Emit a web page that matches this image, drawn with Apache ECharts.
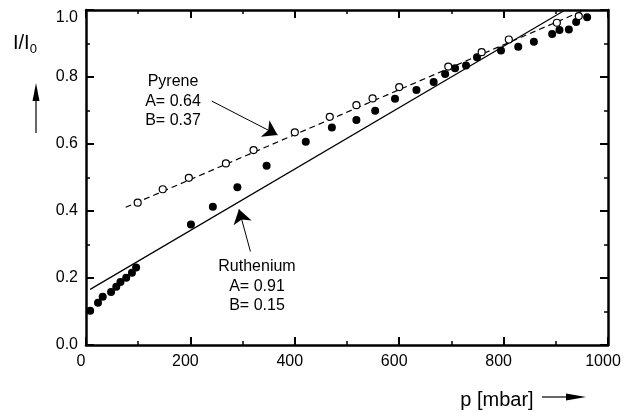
<!DOCTYPE html>
<html>
<head>
<meta charset="utf-8">
<script src="https://cdn.jsdelivr.net/npm/echarts@6/dist/echarts.min.js"></script>
<style>html,body{margin:0;padding:0;background:#fff}#c{width:633px;height:412px}</style>
</head>
<body>
<div id="c"></div>
<script>
// Ruthenium (filled circles)
const ruPressure = [8, 23, 32, 48, 58, 66, 77, 88, 96, 201, 243, 290, 346, 421, 471, 518, 554, 592, 633, 666, 688, 707, 728, 749, 795, 828, 858, 893, 907, 925, 939, 960];
const ruValue    = [0.102, 0.126, 0.144, 0.158, 0.174, 0.188, 0.201, 0.216, 0.231, 0.360, 0.413, 0.471, 0.535, 0.607, 0.649, 0.672, 0.699, 0.735, 0.761, 0.785, 0.809, 0.826, 0.834, 0.859, 0.879, 0.890, 0.905, 0.928, 0.940, 0.942, 0.964, 0.978];
// Pyrene (open circles)
const pyPressure = [99, 147, 197, 268, 321, 400, 467, 518, 549, 600, 694, 758, 810, 902, 944];
const pyValue    = [0.425, 0.465, 0.499, 0.542, 0.582, 0.635, 0.681, 0.716, 0.736, 0.770, 0.831, 0.874, 0.912, 0.962, 0.982];
// Fit lines (end points)
const ruFitP = [8, 918];
const ruFitV = [0.166, 1.0];
const pyFitP = [76, 955];
const pyFitV = [0.411, 1.0];
// Annotation arrows [from, to] in data coordinates
const pyArrow = [[241, 0.728], [367, 0.627]];
const ruArrow = [[315, 0.279], [293, 0.405]];
const xTicks = {min: 0, max: 1000, interval: 200};
const yTicks = {min: 0, max: 1.0, interval: 0.2};

const FONT = 'Liberation Sans, Arial, Helvetica, sans-serif';
const zip = (a, b) => a.map((v, i) => [v, b[i]]);

function axisCommon() {
  return {
    type: 'value',
    axisLine: {show: true, onZero: false, lineStyle: {color: '#000', width: 2.5}},
    axisTick: {show: true, inside: true, length: 8, lineStyle: {color: '#000', width: 2}},
    minorTick: {show: true, splitNumber: 2, length: 4, lineStyle: {color: '#000', width: 1.5}},
    splitLine: {show: false},
    minorSplitLine: {show: false}
  };
}

const chart = echarts.init(document.getElementById('c'), null, {renderer: 'canvas'});
const arrowLine = (pts) => ({
  silent: true,
  symbol: ['none', 'arrow'],
  symbolSize: 14,
  lineStyle: {color: '#000', width: 1, type: 'solid', opacity: 1},
  itemStyle: {color: '#000'},
  label: {show: false},
  emphasis: {disabled: true},
  data: [[{coord: pts[0]}, {coord: pts[1]}]],
  animation: false
});

chart.setOption({
  animation: false,
  backgroundColor: '#fff',
  grid: {left: 86, right: 25, top: 10, bottom: 67, containLabel: false},
  xAxis: [
    Object.assign(axisCommon(), xTicks, {
      position: 'bottom',
      axisLabel: {show: true, color: '#000', fontSize: 16, fontFamily: FONT, margin: 9, padding: [0, 10, 0, 0],
        formatter: v => String(v)}
    }),
    Object.assign(axisCommon(), xTicks, {position: 'top', axisLabel: {show: false}})
  ],
  yAxis: [
    Object.assign(axisCommon(), yTicks, {
      position: 'left',
      axisLabel: {show: true, color: '#000', fontSize: 16, fontFamily: FONT, margin: 8,
        verticalAlignMaxLabel: 'top',
        formatter: v => v.toFixed(1)}
    }),
    Object.assign(axisCommon(), yTicks, {position: 'right', axisLabel: {show: false}})
  ],
  series: [
    {
      type: 'line', name: 'Ruthenium fit', data: zip(ruFitP, ruFitV),
      showSymbol: false, symbol: 'none', lineStyle: {color: '#000', width: 1.2}, z: 2,
      markLine: arrowLine(ruArrow)
    },
    {
      type: 'line', name: 'Pyrene fit', data: zip(pyFitP, pyFitV),
      showSymbol: false, symbol: 'none', lineStyle: {color: '#000', width: 1.2, type: [6, 4]}, z: 2,
      markLine: arrowLine(pyArrow)
    },
    {
      type: 'scatter', name: 'Ruthenium', data: zip(ruPressure, ruValue),
      symbol: 'circle', symbolSize: 8, itemStyle: {color: '#000', opacity: 1}, z: 3
    },
    {
      type: 'scatter', name: 'Pyrene', data: zip(pyPressure, pyValue),
      symbol: 'circle', symbolSize: 7, itemStyle: {color: '#fff', borderColor: '#000', borderWidth: 1.2, opacity: 1}, z: 4
    }
  ],
  graphic: [
    {type: 'text', x: 173, y: 72, style: {text: 'Pyrene\nA= 0.64\nB= 0.37', fill: '#000', font: '16px ' + FONT, align: 'center', lineHeight: 19.5}},
    {type: 'text', x: 257, y: 257, style: {text: 'Ruthenium\nA= 0.91\nB= 0.15', fill: '#000', font: '16px ' + FONT, align: 'center', lineHeight: 19.5}},
    {type: 'text', x: 13, y: 31, style: {
      text: 'I/I{s|0}', fill: '#000', font: '20px ' + FONT,
      rich: {s: {fontSize: 13, fontFamily: FONT, fill: '#000', padding: [12, 0, 0, 0]}}
    }},
    {type: 'line', shape: {x1: 36, y1: 133, x2: 36, y2: 95}, style: {stroke: '#000', lineWidth: 1.2}},
    {type: 'polygon', shape: {points: [[36, 83], [32.5, 101], [39.5, 101]]}, style: {fill: '#000'}},
    {type: 'text', x: 497, y: 400, style: {text: 'p [mbar]', fill: '#000', font: '20px ' + FONT, align: 'center', verticalAlign: 'middle'}},
    {type: 'line', shape: {x1: 542, y1: 397, x2: 572, y2: 397}, style: {stroke: '#000', lineWidth: 1.2}},
    {type: 'polygon', shape: {points: [[586, 397], [566, 393.5], [566, 400.5]]}, style: {fill: '#000'}}
  ]
});
</script>
</body>
</html>
